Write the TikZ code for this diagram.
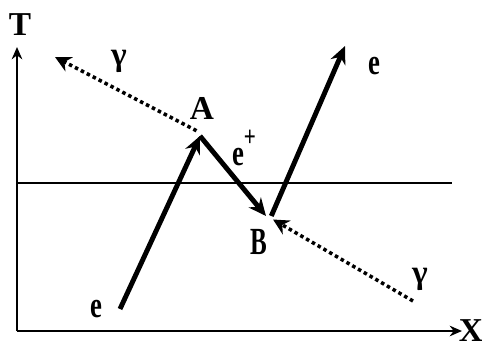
\documentclass[tikz,border=0pt]{standalone}
\usepackage{fontspec}
\setmainfont{Liberation Serif}
\usetikzlibrary{arrows.meta}
\tikzset{
  track/.style={line width=2.8pt, -{Stealth[length=10pt,width=9pt]}},
  photon/.style={line width=2pt, dash pattern=on 2pt off 1.8pt, -{Stealth[length=9pt,width=9pt]}},
  lbl/.style={font=\bfseries\fontsize{19}{22}\selectfont, inner sep=0pt},
  narrow/.style={lbl, xscale=0.8, yscale=1.1},
  axis/.style={line width=1.2pt, -{Stealth[length=7pt,width=6pt]}}
}
\begin{document}
\begin{tikzpicture}[x=0.02cm, y=-0.02cm]
        \useasboundingbox (0,0) rectangle (482,347);
        % 坐标原点与各事件点
        \coordinate (O) at (17,331);
        \coordinate (tEnd) at (17,47);
        \coordinate (xEnd) at (462,331);
        \coordinate (eIn) at (120,309);
        \coordinate (A) at (200,136);
        \coordinate (B) at (266,216);
        \coordinate (eOut) at (345,46);
        \coordinate (gOut) at (55,57);
        \coordinate (gIn) at (413,301);
        \coordinate (hL) at (17,183);
        \coordinate (hR) at (452,183);

        % 画坐标轴
        \draw[axis] (O) -- (tEnd);
        \draw[axis] (O) -- (xEnd);
        \node[lbl] (T) at (20,25) {T};
        \node[lbl] (X) at (471,331) {X};

        % 水平线
        \draw[line width=0.9pt] (hL) -- (hR);

        % 电子与正电子轨迹
        \draw[track] (eIn) -- (A);
        \draw[track] (A) -- (B);
        \draw[track] ([xshift=3pt]B) -- (eOut);

        % 光子
        \draw[photon] ([xshift=-2pt,yshift=3pt]A) -- (gOut);
        \draw[photon] (gIn) -- ([xshift=4pt,yshift=-2pt]B);

        % 标注
        \node[narrow] (eInL) at (96,309) {e};
        \node[lbl] (AL) at (202,108) {A};
        \node[lbl, xscale=0.75, yscale=1.15] (BL) at (259,242) {B};
        \node[narrow] (epL) at (244,148) {e\raisebox{1.1ex}{\fontsize{15}{15}\selectfont +}};
        \node[narrow] (eOutL) at (374,66) {e};
        \node[lbl] (g1) at (119,61) {γ};
        \node[lbl] (g2) at (420,279) {γ};
    \end{tikzpicture}
\end{document}
